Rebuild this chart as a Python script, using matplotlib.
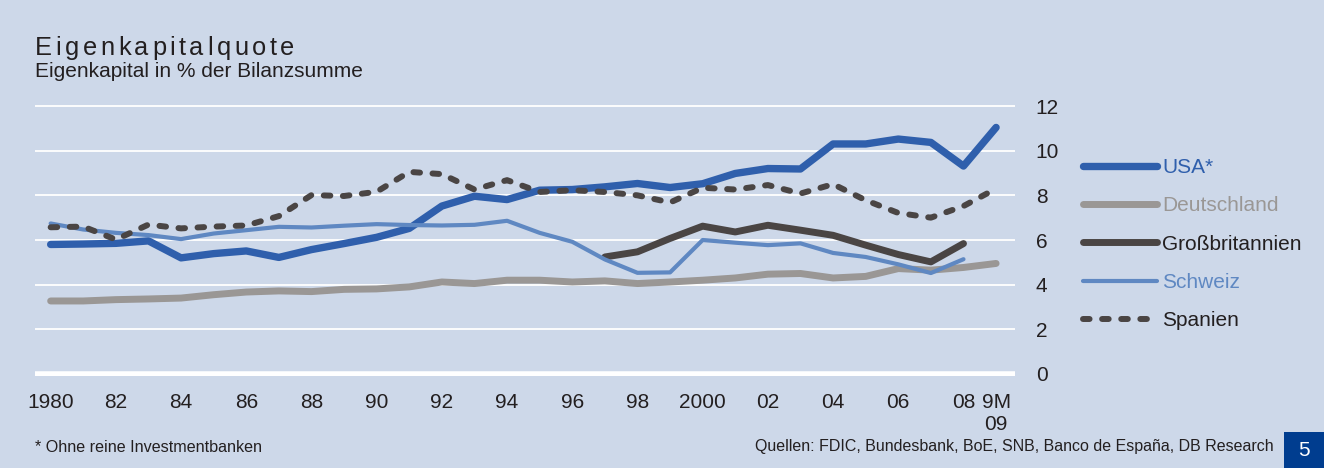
import matplotlib
matplotlib.use('Agg')
import matplotlib.pyplot as plt
from matplotlib.patches import Rectangle

# data
years = list(range(1980, 2010))
usa = [5.80, 5.82, 5.85, 5.96, 5.20, 5.39, 5.51, 5.22, 5.57, 5.84,
       6.12, 6.52, 7.52, 7.96, 7.81, 8.23, 8.26, 8.38, 8.53, 8.35,
       8.52, 8.98, 9.20, 9.18, 10.30, 10.30, 10.52, 10.37, 9.31, 11.04]
deutschland = [3.27, 3.27, 3.33, 3.36, 3.40, 3.55, 3.67, 3.72, 3.69, 3.79,
               3.81, 3.90, 4.12, 4.05, 4.20, 4.20, 4.12, 4.17, 4.05, 4.12,
               4.20, 4.30, 4.47, 4.50, 4.30, 4.37, 4.72, 4.65, 4.77, 4.95]
gb_years = list(range(1997, 2009))
gb = [5.24, 5.47, 6.07, 6.62, 6.36, 6.66, 6.44, 6.21, 5.77, 5.35, 5.02, 5.84]
ch_years = list(range(1980, 2009))
schweiz = [6.74, 6.47, 6.32, 6.22, 6.04, 6.29, 6.44, 6.59, 6.56, 6.64,
           6.71, 6.67, 6.65, 6.68, 6.86, 6.32, 5.92, 5.13, 4.53, 4.55,
           6.00, 5.88, 5.77, 5.85, 5.42, 5.24, 4.91, 4.52, 5.14]
spanien = [6.57, 6.60, 6.02, 6.69, 6.52, 6.60, 6.65, 7.07, 8.01, 7.97,
           8.16, 9.05, 8.95, 8.26, 8.68, 8.15, 8.23, 8.15, 8.00, 7.68,
           8.34, 8.26, 8.46, 8.08, 8.50, 7.78, 7.21, 7.00, 7.52, 8.30]

xtick_pos = [1980, 1982, 1984, 1986, 1988, 1990, 1992, 1994, 1996, 1998,
             2000, 2002, 2004, 2006, 2008, 2009]
xtick_labels = ['1980', '82', '84', '86', '88', '90', '92', '94', '96', '98',
                '2000', '02', '04', '06', '08', '9M\n09']

BG = '#cdd8e9'
TXT = '#231f20'
C_USA = '#2f5fac'
C_DE = '#9a9795'
C_GB = '#4a4544'
C_CH = '#5f88c2'
C_ES = '#4a4544'

plt.rcParams['font.family'] = ['Liberation Sans', 'DejaVu Sans']

W, H = 1324, 468
fig = plt.figure(figsize=(W / 100, H / 100), dpi=100, facecolor=BG)

def fx(px):
    return px / W

def fy(py):
    return 1 - py / H

m = 0.1 * 22.33  # small margin so the 0 and 12 grid lines are not clipped
ax = fig.add_axes([fx(35), fy(374 + m), fx(1015) - fx(35), fy(106 - m) - fy(374 + m)])
ax.set_facecolor(BG)
ax.set_xlim(1979.52, 2009.58)
ax.set_ylim(-0.1, 12.1)
for s in ax.spines.values():
    s.set_visible(False)

ax.yaxis.tick_right()
ax.set_yticks(range(0, 13, 2))
ax.tick_params(axis='y', length=0, pad=15, labelsize=15, labelcolor=TXT)
ax.set_xticks(xtick_pos)
ax.set_xticklabels(xtick_labels)
ax.tick_params(axis='x', length=0, pad=12, labelsize=15, labelcolor=TXT)
ax.grid(axis='y', color='white', linewidth=1.3)
ax.set_axisbelow(True)
ax.axhline(0, color='white', linewidth=4, zorder=1)

ax.plot(years, usa, color=C_USA, lw=5.3, solid_capstyle='round', label='USA*', zorder=3)
ax.plot(years, deutschland, color=C_DE, lw=5.0, solid_capstyle='round', label='Deutschland', zorder=3)
ax.plot(gb_years, gb, color=C_GB, lw=5.0, solid_capstyle='round', label='Großbritannien', zorder=3)
ax.plot(ch_years, schweiz, color=C_CH, lw=3.0, solid_capstyle='round', label='Schweiz', zorder=3)
ax.plot(years, spanien, color=C_ES, lw=4.3, dashes=(1.1, 2.1), dash_capstyle='round',
        label='Spanien', zorder=3)

leg = ax.legend(loc='upper left', bbox_to_anchor=(fx(1083), fy(158)),
                bbox_transform=fig.transFigure, frameon=False, fontsize=15,
                handlelength=3.55, handletextpad=0.25, labelspacing=0.93,
                borderpad=0, borderaxespad=0)
for txt, line in zip(leg.get_texts(), leg.get_lines()):
    txt.set_color(line.get_color())
leg.get_texts()[2].set_color(TXT)
leg.get_texts()[4].set_color(TXT)

# title with letter spacing
title = 'Eigenkapitalquote'
renderer = fig.canvas.get_renderer()
x0 = fx(35)
track = 3.5
for k, ch in enumerate(title):
    t = fig.text(0, 0, title[:k + 1], fontsize=18.3)
    wp = t.get_window_extent(renderer).width
    t.set_text(ch)
    wc = t.get_window_extent(renderer).width
    t.remove()
    fig.text(x0 + (wp - wc + k * track) / W, fy(55), ch, fontsize=18.3,
             color=TXT, va='baseline', ha='left')

fig.text(fx(35), fy(77), 'Eigenkapital in % der Bilanzsumme', fontsize=15,
         color=TXT, va='baseline', ha='left')

fig.text(fx(35), fy(447), '* Ohne reine Investmentbanken', fontsize=11.6,
         color=TXT, va='center', ha='left')
fig.text(fx(1274), fy(447), 'Quellen: FDIC, Bundesbank, BoE, SNB, Banco de España, DB Research',
         fontsize=11.5, color=TXT, va='center', ha='right')

fig.patches.append(Rectangle((fx(1284), 0), fx(40), 36 / H, transform=fig.transFigure,
                             facecolor='#003d8f', edgecolor='none'))
fig.text(fx(1304), fy(451), '5', fontsize=15, color='white', ha='center', va='center')

fig.savefig('out.png', dpi=100, facecolor=BG)
